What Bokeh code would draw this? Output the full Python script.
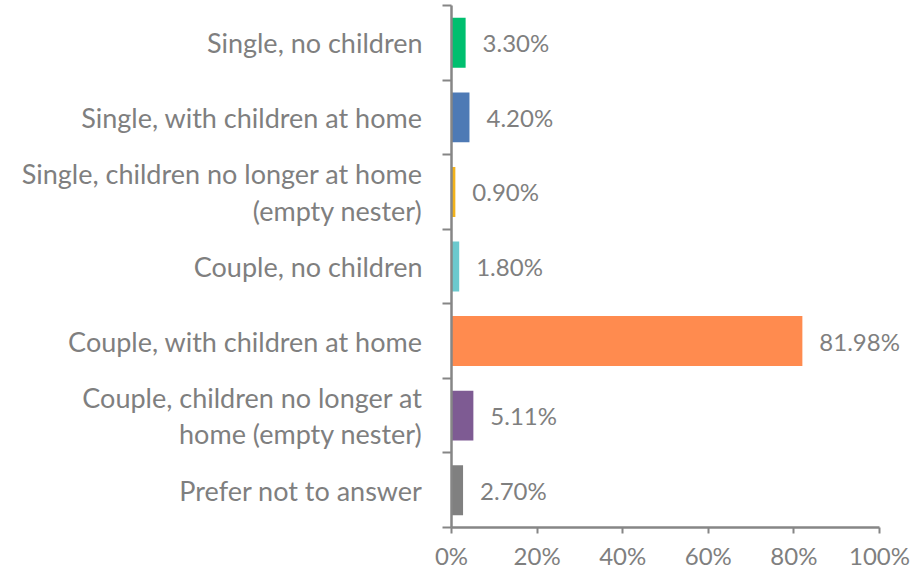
from bokeh.plotting import figure
from bokeh.models import Range1d, FixedTicker, ColumnDataSource, LabelSet
from bokeh.embed import file_html
from bokeh.resources import INLINE
from bokeh.core.properties import value

categories = [
    "Single, no children",
    "Single, with children at home",
    "Single, children no longer at home\n(empty nester)",
    "Couple, no children",
    "Couple, with children at home",
    "Couple, children no longer at\nhome (empty nester)",
    "Prefer not to answer",
]
shares = [3.30, 4.20, 0.90, 1.80, 81.98, 5.11, 2.70]
colors = ["#00BF6F", "#4E7AB5", "#F2B21B", "#6CC9CE", "#FF8B4F", "#7E5B93", "#808080"]
x_ticks = [0, 20, 40, 60, 80, 100]

n = len(categories)
ypos = [n - 1 - i for i in range(n)]
src = ColumnDataSource(dict(
    y=ypos,
    v=shares,
    c=colors,
    lab=[f"{s:.2f}%" for s in shares],
))

FONT = "Lato"
GRAY = "#7F7F7F"

# frame: left at 451px, 4.28 px per percent, right edge at 914px
x_end = (914 - 451) / 4.28
p = figure(width=919, height=572, output_backend="svg", toolbar_location=None,
           x_range=Range1d(0, x_end), y_range=Range1d(-0.5, n - 0.5),
           min_border_left=451, min_border_right=5, min_border_top=5, min_border_bottom=44)
p.outline_line_color = None
p.grid.grid_line_color = None
p.background_fill_color = "white"

p.hbar(y="y", right="v", left=0, height=0.67, fill_color="c", line_color=None, source=src)
labels = LabelSet(x="v", y="y", text="lab", x_offset=17, text_baseline="middle", text_align="left",
                  text_color=GRAY, text_font=value(FONT), text_font_size="24px", source=src)
p.add_layout(labels)

ya = p.yaxis[0]
ya.ticker = FixedTicker(ticks=ypos, minor_ticks=[k - 0.5 for k in range(n + 1)])
ya.major_label_overrides = {yy: categories[i] for i, yy in enumerate(ypos)}
ya.major_tick_out = 0
ya.major_tick_in = 0
ya.minor_tick_out = 9
ya.minor_tick_in = 0
ya.minor_tick_line_color = "#868686"
ya.minor_tick_line_width = 2
ya.axis_line_color = "#868686"
ya.axis_line_width = 2.5
ya.major_label_standoff = 20
ya.major_label_text_font = FONT
ya.major_label_text_font_size = "27px"
ya.major_label_text_color = GRAY
ya.major_label_text_line_height = 1.1

xa = p.xaxis[0]
xa.bounds = (0, 100)
xa.ticker = FixedTicker(ticks=x_ticks)
xa.major_label_overrides = {t: f"{t}%" for t in x_ticks}
xa.major_tick_out = 6
xa.major_tick_in = 0
xa.minor_tick_out = 0
xa.minor_tick_in = 0
xa.major_tick_line_color = "#868686"
xa.major_tick_line_width = 2
xa.axis_line_color = "#868686"
xa.axis_line_width = 2.5
xa.major_label_standoff = 7
xa.major_label_text_font = FONT
xa.major_label_text_font_size = "24px"
xa.major_label_text_color = GRAY

open("out.html", "w").write(file_html(p, INLINE))
